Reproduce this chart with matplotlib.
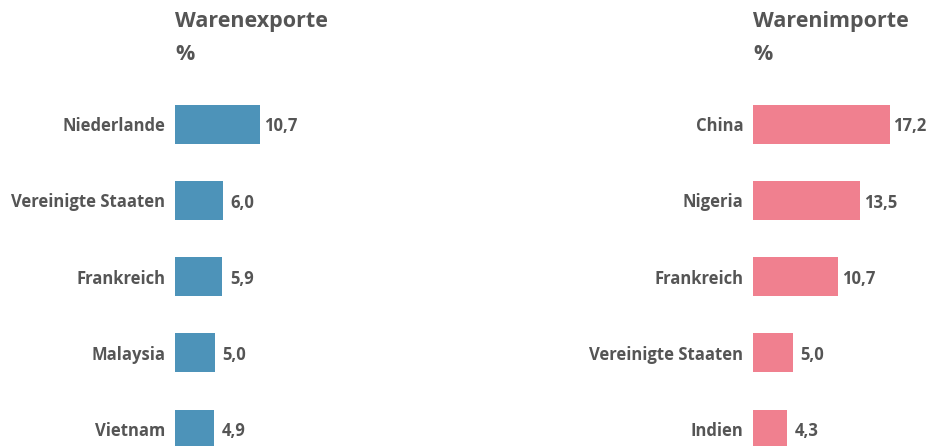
import matplotlib
matplotlib.use("Agg")
import matplotlib.pyplot as plt

exp_countries = ["Niederlande", "Vereinigte Staaten", "Frankreich", "Malaysia", "Vietnam"]
exp_values = [10.7, 6.0, 5.9, 5.0, 4.9]
imp_countries = ["China", "Nigeria", "Frankreich", "Vereinigte Staaten", "Indien"]
imp_values = [17.2, 13.5, 10.7, 5.0, 4.3]
titles = ["Warenexporte", "Warenimporte"]
unit = "%"

TXT = "#555555"
FONT = "Open Sans"
W, H = 931, 446
fig = plt.figure(figsize=(W / 100, H / 100), dpi=100)

def panel(left_px, cats, vals, color, title):
    ax_w = 200
    ax = fig.add_axes([left_px / W, 0, ax_w / W, 360 / H])
    y = list(range(len(cats)))
    ax.barh(y, vals, height=0.51, color=color)
    ax.set_xlim(0, ax_w / 7.95)
    ax.set_ylim(4.223, -0.5)
    ax.set_yticks(y)
    ax.set_yticklabels(cats, fontsize=12, fontweight="bold", color=TXT, family=FONT)
    ax.tick_params(axis="y", length=0, pad=7)
    ax.set_xticks([])
    for s in ax.spines.values():
        s.set_visible(False)
    for yi, v in zip(y, vals):
        off = 0.45 if v >= 10 else 1.0
        ax.text(v + off, yi + 0.03, f"{v:.1f}".replace(".", ","), va="center", ha="left",
                fontsize=12, fontweight="bold", color=TXT, family=FONT)
    fig.text(left_px / W, 1 - 22 / H, title, va="center", ha="left",
             fontsize=15.5, fontweight="bold", color=TXT, family=FONT)
    fig.text(left_px / W, 1 - 55 / H, unit, va="center", ha="left",
             fontsize=15.5, fontweight="bold", color=TXT, family=FONT)

panel(175, exp_countries, exp_values, "#4d93b9", titles[0])
panel(753, imp_countries, imp_values, "#f0808f", titles[1])

fig.savefig("out.png", dpi=100)
